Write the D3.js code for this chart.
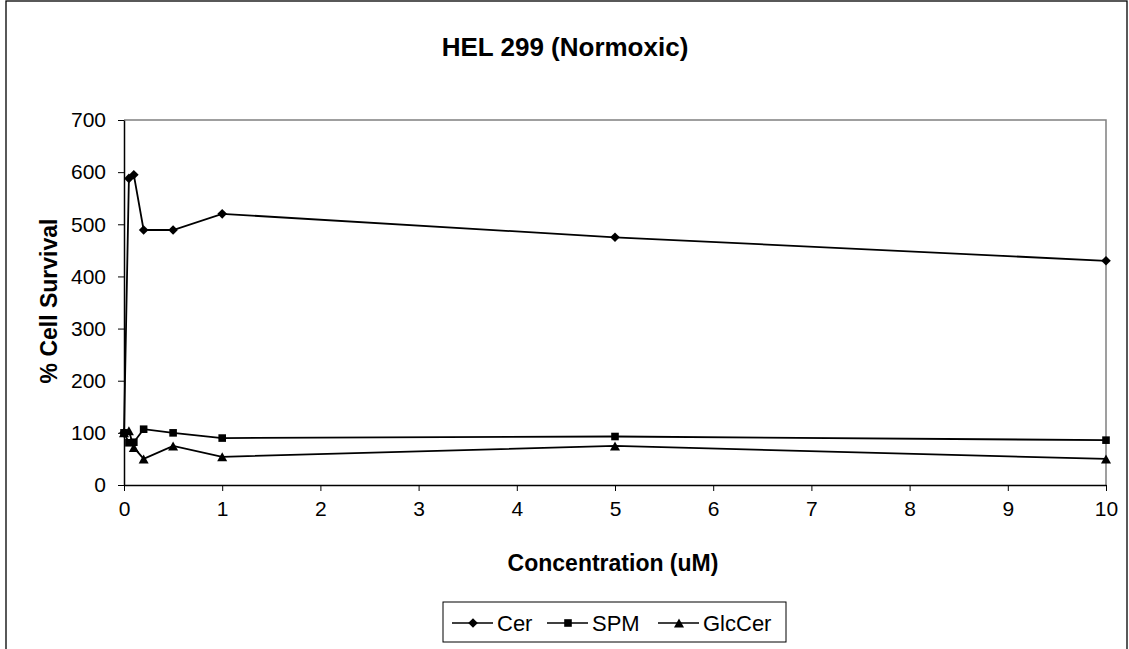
<!DOCTYPE html>
<html>
<head>
<meta charset="utf-8">
<script src="https://cdn.jsdelivr.net/npm/d3@7"></script>
<style>
  html, body { margin: 0; padding: 0; background: #fff; }
  svg { display: block; font-family: Arial, "Liberation Sans", sans-serif; }
</style>
</head>
<body>
<svg id="chart" width="1129" height="649"></svg>
<script>
// Concentrations (uM) and % cell survival for each lipid
const concentration = [0, 0.05, 0.1, 0.2, 0.5, 1, 5, 10];
const cer    = [100, 588, 595, 489, 489, 520, 475, 430];
const spm    = [100, 81, 82, 107, 100, 90, 93, 86];
const glcCer = [100, 104, 72, 50, 75, 54, 75, 50];
const seriesNames = ["Cer", "SPM", "GlcCer"];
const xTicks = [0, 1, 2, 3, 4, 5, 6, 7, 8, 9, 10];
const yTicks = [0, 100, 200, 300, 400, 500, 600, 700];

const svg = d3.select("#chart");
const W = 1129, H = 649;
const plot = { left: 124, right: 1106, top: 120, bottom: 485 };
const FONT = "Arial, 'Liberation Sans', sans-serif";

// outer chart frame
svg.append("rect").attr("x", 6).attr("y", 1).attr("width", 1121).attr("height", H + 10)
  .attr("fill", "#fff").attr("stroke", "#000").attr("stroke-width", 1.3);

const x = d3.scaleLinear().domain([0, 10]).range([plot.left, plot.right]);
const y = d3.scaleLinear().domain([0, 700]).range([plot.bottom, plot.top]);

// plot-area border (top and right in grey)
svg.append("path")
  .attr("d", `M${plot.left},${plot.top}H${plot.right}V${plot.bottom}`)
  .attr("fill", "none").attr("stroke", "#808080").attr("stroke-width", 1.5);

// axes
const yAxis = svg.append("g").attr("transform", `translate(${plot.left},0)`)
  .call(d3.axisLeft(y).tickValues(yTicks).tickSize(6).tickPadding(12).tickSizeOuter(0));
const xAxis = svg.append("g").attr("transform", `translate(0,${plot.bottom})`)
  .call(d3.axisBottom(x).tickValues(xTicks).tickSize(6).tickPadding(12).tickSizeOuter(0));
[xAxis, yAxis].forEach(g => {
  g.selectAll("path.domain").attr("stroke", "#000").attr("stroke-width", 1.5);
  g.selectAll(".tick line").attr("stroke", "#000").attr("stroke-width", 1);
  g.selectAll("text").attr("font-size", 21).attr("fill", "#000").attr("font-family", FONT);
});
xAxis.selectAll("text").attr("dy", "0.62em");

// titles
svg.append("text").attr("x", 565).attr("y", 56).attr("text-anchor", "middle")
  .attr("font-size", 26).attr("font-weight", "bold").text("HEL 299 (Normoxic)");
svg.append("text").attr("x", 613).attr("y", 571).attr("text-anchor", "middle")
  .attr("font-size", 23).attr("font-weight", "bold").text("Concentration (uM)");
svg.append("text").attr("transform", "translate(57,301) rotate(-90)").attr("text-anchor", "middle")
  .attr("font-size", 23).attr("font-weight", "bold").text("% Cell Survival");

// marker shapes: diamond, square, triangle
const markers = [
  { draw(ctx) { const r = 4.8; ctx.moveTo(0, -r); ctx.lineTo(r, 0); ctx.lineTo(0, r); ctx.lineTo(-r, 0); ctx.closePath(); } },
  { draw(ctx) { const r = 3.8; ctx.rect(-r, -r, 2 * r, 2 * r); } },
  { draw(ctx) { const w = 5, h = 4.5; ctx.moveTo(0, -h); ctx.lineTo(w, h); ctx.lineTo(-w, h); ctx.closePath(); } }
];
const allSeries = [cer, spm, glcCer];
const line = d3.line().x((d, i) => x(concentration[i])).y(d => y(d));

allSeries.forEach((vals, k) => {
  svg.append("path").datum(vals).attr("d", line)
    .attr("fill", "none").attr("stroke", "#000").attr("stroke-width", 1.8);
  svg.append("g").selectAll("path").data(vals).join("path")
    .attr("transform", (d, i) => `translate(${x(concentration[i])},${y(d)})`)
    .attr("d", d3.symbol().type(markers[k]))
    .attr("fill", "#000");
});

// legend
const legend = svg.append("g");
legend.append("rect").attr("x", 443).attr("y", 602).attr("width", 343).attr("height", 40)
  .attr("fill", "#fff").attr("stroke", "#000").attr("stroke-width", 1);
const legX = [452, 547, 658];
seriesNames.forEach((name, k) => {
  const g = legend.append("g").attr("transform", `translate(${legX[k]},623)`);
  g.append("line").attr("x1", 0).attr("x2", 41).attr("stroke", "#000").attr("stroke-width", 1.5);
  g.append("path").attr("transform", "translate(21,0)")
    .attr("d", d3.symbol().type(markers[k])).attr("fill", "#000");
  g.append("text").attr("x", 45).attr("y", 8).attr("font-size", 22).text(name);
});
</script>
</body>
</html>
